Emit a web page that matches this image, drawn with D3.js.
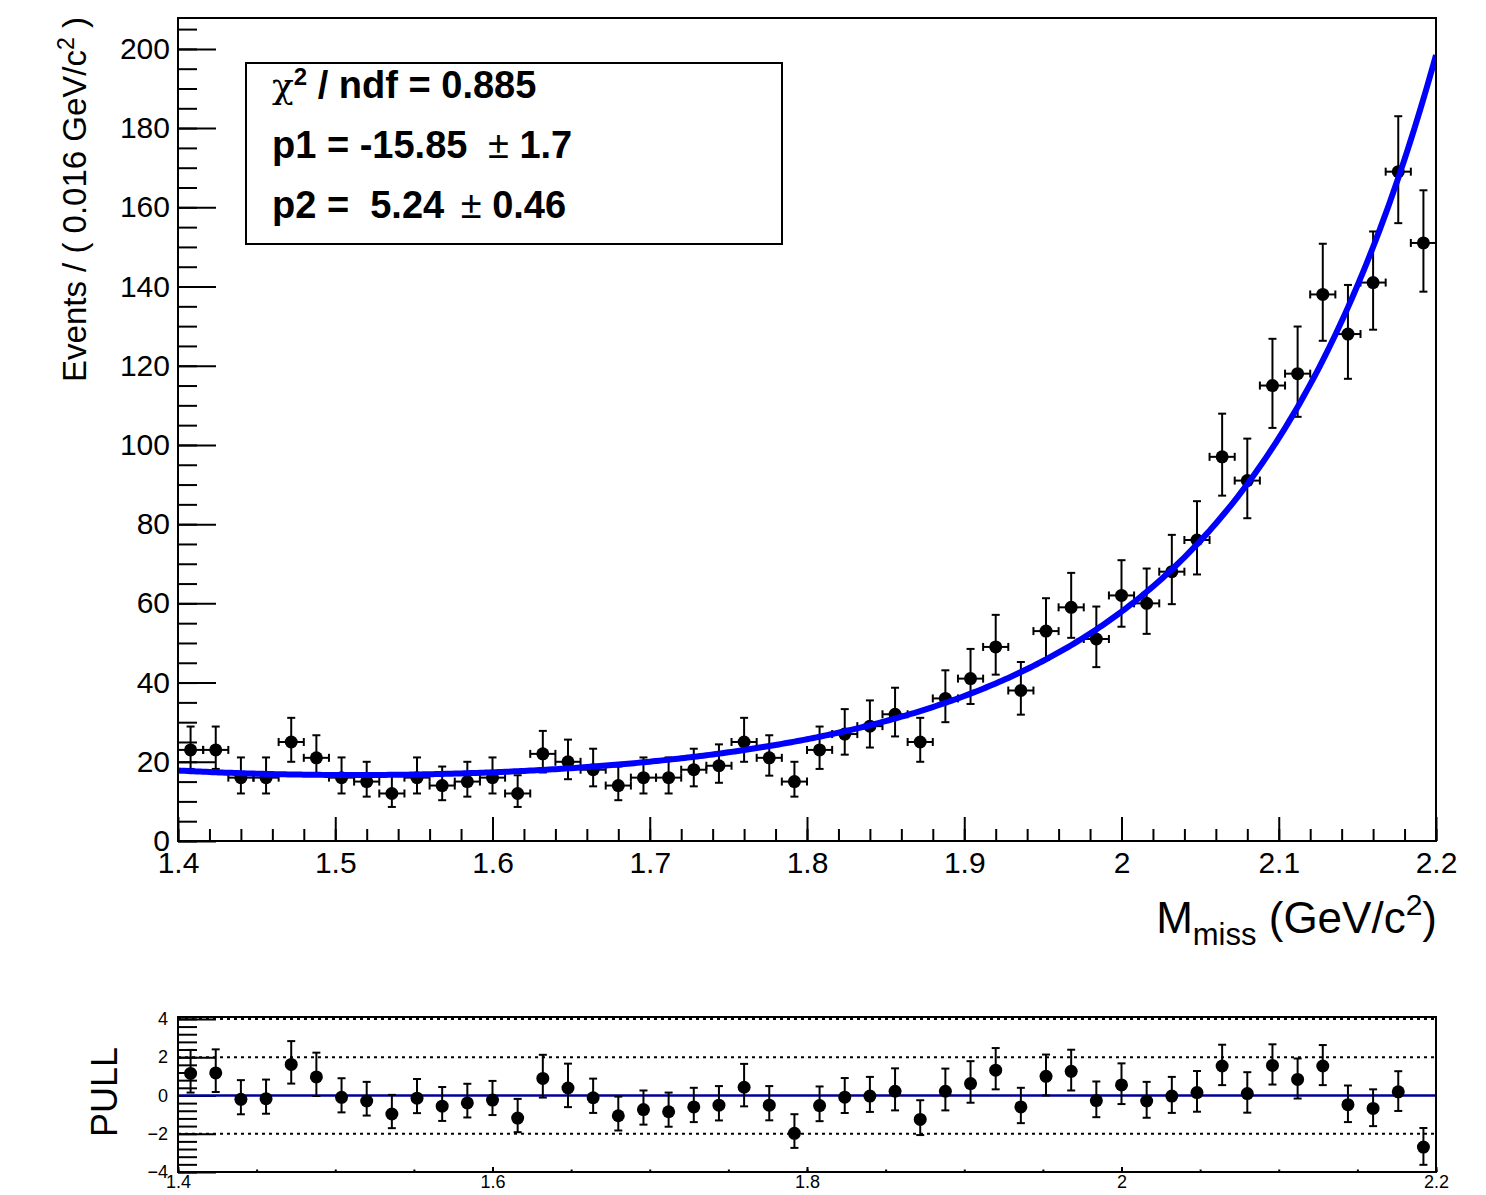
<!DOCTYPE html>
<html lang="en">
<head>
<meta charset="utf-8">
<title>M_miss fit with pulls</title>
<script src="https://d3js.org/d3.v7.min.js"></script>
<style>
body { margin: 0; background: #fff; }
svg text { font-family: "Liberation Sans", Arial, Helvetica, sans-serif; fill: #000; }
.axis line { stroke: #000; stroke-width: 2; }
.frame { fill: none; stroke: #000; stroke-width: 2; }
.err { stroke: #000; stroke-width: 2; }
</style>
</head>
<body>
<script>

// bin centres in GeV/c^2 (bin width 0.016)
var binCenters = [1.408, 1.424, 1.440, 1.456, 1.472, 1.488, 1.504, 1.520, 1.536, 1.552,
                  1.568, 1.584, 1.600, 1.616, 1.632, 1.648, 1.664, 1.680, 1.696, 1.712,
                  1.728, 1.744, 1.760, 1.776, 1.792, 1.808, 1.824, 1.840, 1.856, 1.872,
                  1.888, 1.904, 1.920, 1.936, 1.952, 1.968, 1.984, 2.000, 2.016, 2.032,
                  2.048, 2.064, 2.080, 2.096, 2.112, 2.128, 2.144, 2.160, 2.176, 2.192];
var binWidth = 0.016;

var events = [23, 23, 16, 16, 25, 21, 16, 15, 12, 16,
              14, 15, 16, 12, 22, 20, 18, 14, 16, 16,
              18, 19, 25, 21, 15, 23, 27, 29, 32, 25,
              36, 41, 49, 38, 53, 59, 51, 62, 60, 68,
              76, 97, 91, 115, 118, 138, 128, 141, 169, 151];

// asymmetric (poisson) errors
var errHi = [5.9, 5.9, 5.1, 5.1, 6.1, 5.7, 5.1, 5.0, 4.6, 5.1,
             4.8, 5.0, 5.1, 4.6, 5.8, 5.6, 5.3, 4.8, 5.1, 5.1,
             5.3, 5.4, 6.1, 5.7, 5.0, 5.9, 6.3, 6.5, 6.7, 6.1,
             7.1, 7.5, 8.1, 7.2, 8.3, 8.7, 8.2, 8.9, 8.8, 9.3,
             9.8, 10.9, 10.6, 11.8, 11.9, 12.8, 12.4, 12.9, 14.0, 13.3];
var errLo = [4.8, 4.8, 4.0, 4.0, 5.0, 4.5, 4.0, 3.8, 3.4, 4.0,
             3.7, 3.8, 4.0, 3.4, 4.7, 4.4, 4.2, 3.7, 4.0, 4.0,
             4.2, 4.3, 5.0, 4.5, 3.8, 4.8, 5.2, 5.4, 5.6, 5.0,
             6.0, 6.4, 7.0, 6.1, 7.3, 7.7, 7.1, 7.9, 7.7, 8.2,
             8.7, 9.8, 9.5, 10.7, 10.9, 11.7, 11.3, 11.9, 13.0, 12.3];

var pulls = [1.15, 1.18, -0.20, -0.17, 1.62, 0.97, -0.10, -0.29, -0.97, -0.14,
             -0.56, -0.39, -0.24, -1.18, 0.89, 0.39, -0.12, -1.06, -0.74, -0.85,
             -0.60, -0.51, 0.43, -0.51, -1.98, -0.53, -0.09, -0.03, 0.22, -1.25,
             0.22, 0.62, 1.32, -0.60, 1.00, 1.26, -0.27, 0.55, -0.29, -0.03,
             0.15, 1.54, 0.10, 1.57, 0.84, 1.54, -0.48, -0.68, 0.19, -2.70];

// fit: N * exp(p1*x + p2*x^2), N set by the curve height at 1.4
var p1 = -15.85, p2 = 5.24;
var fitAtLow = 17.8;

var xMajor = [1.4, 1.5, 1.6, 1.7, 1.8, 1.9, 2.0, 2.1, 2.2];
var yMajor = [0, 20, 40, 60, 80, 100, 120, 140, 160, 180, 200];
var pullXMajor = [1.4, 1.6, 1.8, 2.0, 2.2];
var pullYMajor = [-4, -2, 0, 2, 4];
var pullRefLines = [4, 2, -2];

var svg = d3.select("body").append("svg")
    .attr("width", 1486)
    .attr("height", 1195);

var x = d3.scaleLinear().domain([1.4, 2.2]).range([178, 1436]);
var y = d3.scaleLinear().domain([0, 207.8]).range([841, 18]);
var yp = d3.scaleLinear().domain([-4, 4.1]).range([1172, 1017]);

var fmt = d3.format("~g");

var xMinor = d3.range(70, 111).map(function(v) { return v / 50; });
var yMinor = d3.range(0, 42).map(function(v) { return v * 5; });
var pullXMinor = d3.range(28, 45).map(function(v) { return v / 20; });
var pullYMinor = d3.range(-10, 11).map(function(v) { return v * 0.4; });

function noDomain(g) { g.select(".domain").remove(); }

// ---------- main panel axes ----------
svg.append("g").attr("class", "axis")
    .attr("transform", "translate(0,841)")
    .call(d3.axisBottom(x).tickValues(xMinor).tickSize(-12).tickFormat(""))
    .call(noDomain);
svg.append("g").attr("class", "axis")
    .attr("transform", "translate(0,841)")
    .call(d3.axisBottom(x).tickValues(xMajor).tickSize(-24).tickPadding(11).tickFormat(fmt))
    .call(noDomain)
    .selectAll("text").style("font-size", "30px");

svg.append("g").attr("class", "axis")
    .attr("transform", "translate(178,0)")
    .call(d3.axisLeft(y).tickValues(yMinor).tickSize(-19).tickFormat(""))
    .call(noDomain);
svg.append("g").attr("class", "axis")
    .attr("transform", "translate(178,0)")
    .call(d3.axisLeft(y).tickValues(yMajor).tickSize(-38).tickPadding(8).tickFormat(fmt))
    .call(noDomain)
    .selectAll("text").style("font-size", "30px");

// clip for curve
svg.append("clipPath").attr("id", "mainClip")
  .append("rect")
    .attr("x", x(1.4)).attr("y", y(207.8))
    .attr("width", x(2.2) - x(1.4)).attr("height", y(0) - y(207.8));

// ---------- data points ----------
var data = binCenters.map(function(c, i) {
    return { x: c, n: events[i], hi: errHi[i], lo: errLo[i], pull: pulls[i] };
});

var pts = svg.append("g");
data.forEach(function(d) {
    var cx = x(d.x), cy = y(d.n);
    var xl = x(d.x - binWidth / 2), xr = x(d.x + binWidth / 2);
    var yt = y(d.n + d.hi), yb = y(d.n - d.lo);
    pts.append("line").attr("class", "err").attr("x1", xl).attr("x2", xr).attr("y1", cy).attr("y2", cy);
    pts.append("line").attr("class", "err").attr("x1", xl).attr("x2", xl).attr("y1", cy - 4).attr("y2", cy + 4);
    pts.append("line").attr("class", "err").attr("x1", xr).attr("x2", xr).attr("y1", cy - 4).attr("y2", cy + 4);
    pts.append("line").attr("class", "err").attr("x1", cx).attr("x2", cx).attr("y1", yt).attr("y2", yb);
    pts.append("line").attr("class", "err").attr("x1", cx - 4).attr("x2", cx + 4).attr("y1", yt).attr("y2", yt);
    pts.append("line").attr("class", "err").attr("x1", cx - 4).attr("x2", cx + 4).attr("y1", yb).attr("y2", yb);
    pts.append("circle").attr("cx", cx).attr("cy", cy).attr("r", 6.5).attr("fill", "#000");
});

// ---------- fit curve ----------
var norm = fitAtLow / Math.exp(p1 * 1.4 + p2 * 1.4 * 1.4);
var fitX = d3.range(0, 401).map(function(i) { return 1.4 + i * 0.002; });
var fitLine = d3.line()
    .x(function(d) { return x(d); })
    .y(function(d) { return y(norm * Math.exp(p1 * d + p2 * d * d)); });

svg.append("path")
    .attr("d", fitLine(fitX))
    .attr("clip-path", "url(#mainClip)")
    .style("fill", "none")
    .style("stroke", "#0000ff")
    .style("stroke-width", 6);

// frame
svg.append("rect").attr("class", "frame")
    .attr("x", x(1.4)).attr("y", y(207.8))
    .attr("width", x(2.2) - x(1.4)).attr("height", y(0) - y(207.8));

// ---------- stats box ----------
svg.append("rect")
    .attr("x", 246).attr("y", 63).attr("width", 536).attr("height", 181)
    .style("fill", "#fff").style("stroke", "#000").style("stroke-width", 2);

var stats = svg.append("g").style("font-size", "38px");
var r1 = stats.append("text").attr("x", 272).attr("y", 98);
r1.append("tspan").style("font-family", "'DejaVu Serif', serif").style("font-size", "36px").text("\u03c7");
r1.append("tspan").attr("dy", -13).style("font-size", "24px").style("font-weight", "bold").text("2");
r1.append("tspan").attr("dy", 13).style("font-weight", "bold").text(" / ndf = 0.885");

var r2 = stats.append("text").attr("x", 272).attr("y", 158);
r2.append("tspan").style("font-weight", "bold").text("p1 = -15.85 ");
r2.append("tspan").attr("dx", 10).text("\u00b1");
r2.append("tspan").style("font-weight", "bold").text(" 1.7");

var r3 = stats.append("text").attr("x", 272).attr("y", 218);
r3.append("tspan").style("font-weight", "bold").text("p2 = \u00a05.24 ");
r3.append("tspan").attr("dx", 6).text("\u00b1");
r3.append("tspan").style("font-weight", "bold").text(" 0.46");

// ---------- axis titles ----------
var yt = svg.append("text")
    .attr("transform", "translate(86,17) rotate(-90)")
    .attr("text-anchor", "end")
    .style("font-size", "33px");
yt.append("tspan").text("Events / ( 0.016 GeV/c");
yt.append("tspan").attr("dy", -12).style("font-size", "23px").text("2");
yt.append("tspan").attr("dy", 12).text(" )");

var xt = svg.append("text")
    .attr("x", 1437).attr("y", 933)
    .attr("text-anchor", "end")
    .style("font-size", "44px");
xt.append("tspan").text("M");
xt.append("tspan").attr("dy", 12).style("font-size", "31px").text("miss");
xt.append("tspan").attr("dy", -12).text(" (GeV/c");
xt.append("tspan").attr("dy", -18).style("font-size", "30px").text("2");
xt.append("tspan").attr("dy", 18).text(")");

// ---------- pull panel ----------
svg.append("g").attr("class", "axis")
    .attr("transform", "translate(0,1172)")
    .call(d3.axisBottom(x).tickValues(pullXMinor).tickSize(-2.5).tickFormat(""))
    .call(noDomain);
svg.append("g").attr("class", "axis")
    .attr("transform", "translate(0,1172)")
    .call(d3.axisBottom(x).tickValues(pullXMajor).tickSize(-5).tickPadding(3).tickFormat(fmt))
    .call(noDomain)
    .selectAll("text").style("font-size", "18px");

svg.append("g").attr("class", "axis")
    .attr("transform", "translate(178,0)")
    .call(d3.axisLeft(yp).tickValues(pullYMinor).tickSize(-19).tickFormat(""))
    .call(noDomain);
svg.append("g").attr("class", "axis")
    .attr("transform", "translate(178,0)")
    .call(d3.axisLeft(yp).tickValues(pullYMajor).tickSize(-38).tickPadding(10).tickFormat(fmt))
    .call(noDomain)
    .selectAll("text").style("font-size", "18px");

svg.append("g").selectAll("line")
    .data(pullRefLines)
    .join("line")
    .attr("x1", x(1.4)).attr("x2", x(2.2))
    .attr("y1", function(d) { return yp(d); })
    .attr("y2", function(d) { return yp(d); })
    .style("stroke", "#000").style("stroke-width", 2)
    .style("stroke-dasharray", "3,4");

svg.append("line")
    .attr("x1", x(1.4)).attr("x2", x(2.2))
    .attr("y1", yp(0)).attr("y2", yp(0))
    .style("stroke", "#000099").style("stroke-width", 2.5);

var pp = svg.append("g");
data.forEach(function(d) {
    // bars scaled by the error used in the pull
    var up = d.pull >= 0 ? d.hi / d.lo : 1;
    var dn = d.pull >= 0 ? 1 : d.lo / d.hi;
    var cx = x(d.x), cy = yp(d.pull);
    var t = yp(d.pull + up), b = yp(d.pull - dn);
    pp.append("line").attr("class", "err").attr("x1", cx).attr("x2", cx).attr("y1", t).attr("y2", b);
    pp.append("line").attr("class", "err").attr("x1", cx - 4).attr("x2", cx + 4).attr("y1", t).attr("y2", t);
    pp.append("line").attr("class", "err").attr("x1", cx - 4).attr("x2", cx + 4).attr("y1", b).attr("y2", b);
    pp.append("circle").attr("cx", cx).attr("cy", cy).attr("r", 6.5).attr("fill", "#000");
});

svg.append("rect").attr("class", "frame")
    .attr("x", x(1.4)).attr("y", yp(4.1))
    .attr("width", x(2.2) - x(1.4)).attr("height", yp(-4) - yp(4.1));

svg.append("text")
    .attr("transform", "translate(117,1092) rotate(-90)")
    .attr("text-anchor", "middle")
    .style("font-size", "36px")
    .text("PULL");

</script>
</body>
</html>
